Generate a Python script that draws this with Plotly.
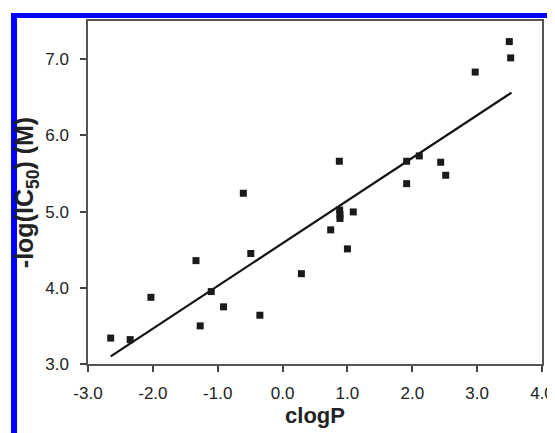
import plotly.graph_objects as go

# Data
clogp = [-2.65, -2.35, -2.03, -1.335, -1.27, -1.10, -0.91, -0.605, -0.49, -0.35,
         0.29, 0.742, 0.875, 0.88, 0.885, 0.885, 1.0, 1.09, 1.913, 1.913,
         2.108, 2.438, 2.515, 2.97, 3.496, 3.517]
pic50 = [3.34, 3.32, 3.875, 4.356, 3.50, 3.95, 3.75, 5.24, 4.45, 3.64,
         4.185, 4.76, 5.66, 5.02, 4.96, 4.91, 4.51, 4.995, 5.66, 5.366,
         5.73, 5.647, 5.476, 6.83, 7.23, 7.016]

# regression line (as read)
fit_slope = 0.56
fit_intercept = 4.584
fit_x = [-2.65, 3.53]

x_tickvals = [-3, -2, -1, 0, 1, 2, 3, 4]
x_ticktext = ["-3.0", "-2.0", "-1.0", "0.0", "1.0", "2.0", "3.0", "4.0"]
y_tickvals = [3, 4, 5, 6, 7]
y_ticktext = ["3.0", "4.0", "5.0", "6.0", "7.0"]

fit_y = [fit_slope * v + fit_intercept for v in fit_x]

# page body has an 8px margin; work in window pixels and convert
OFF = 8
WIN_W, WIN_H = 555, 433
W, H = WIN_W - OFF, WIN_H - OFF
L, R, T, B = 88 - OFF, 542 - OFF, 21 - OFF, 364 - OFF
FONT = "Liberation Sans, Arial, sans-serif"

fig = go.Figure()
fig.add_trace(go.Scatter(x=fit_x, y=fit_y, mode="lines",
                         line=dict(color="#111111", width=2.2),
                         showlegend=False, hoverinfo="skip"))
fig.add_trace(go.Scatter(x=clogp, y=pic50, mode="markers",
                         marker=dict(symbol="square", size=7, color="#1a1a1a",
                                     line=dict(width=0)),
                         showlegend=False))

axis_common = dict(showgrid=False, zeroline=False, showline=True, mirror=True,
                   linecolor="#555555", linewidth=1.5, ticks="outside",
                   ticklen=6, tickwidth=1.5, tickcolor="#444444",
                   automargin=False,
                   tickfont=dict(family=FONT, size=17, color="#222222"))

fig.update_xaxes(range=[-3, 4], tickvals=x_tickvals, ticktext=x_ticktext,
                 ticklabelstandoff=7,
                 title=dict(text="<b>clogP</b>", standoff=2,
                            font=dict(family=FONT, size=22, color="#222222")),
                 **axis_common)
fig.update_yaxes(range=[3, 7.5], tickvals=y_tickvals, ticktext=y_ticktext,
                 ticklabelstandoff=8,
                 title=dict(text="<b>-log(IC<sub>50</sub>) (M)</b>", standoff=4,
                            font=dict(family=FONT, size=25, color="#222222")),
                 **axis_common)

pw = R - L
ph = B - T
def px(xw):
    return (xw - OFF - L) / pw
def py(yw):
    return (B - (yw - OFF)) / ph

blue = "#0000ff"
fig.add_shape(type="rect", xref="paper", yref="paper",
              x0=px(11), x1=px(WIN_W + 5), y0=py(18), y1=py(13),
              fillcolor=blue, line=dict(width=0), layer="above")
fig.add_shape(type="rect", xref="paper", yref="paper",
              x0=px(11), x1=px(17), y0=py(WIN_H + 5), y1=py(13),
              fillcolor=blue, line=dict(width=0), layer="above")

fig.update_layout(width=W, height=H,
                  margin=dict(l=L, r=W - R, t=T, b=H - B, autoexpand=False),
                  plot_bgcolor="white", paper_bgcolor="white",
                  font=dict(family=FONT))

fig.write_html("out.html")
